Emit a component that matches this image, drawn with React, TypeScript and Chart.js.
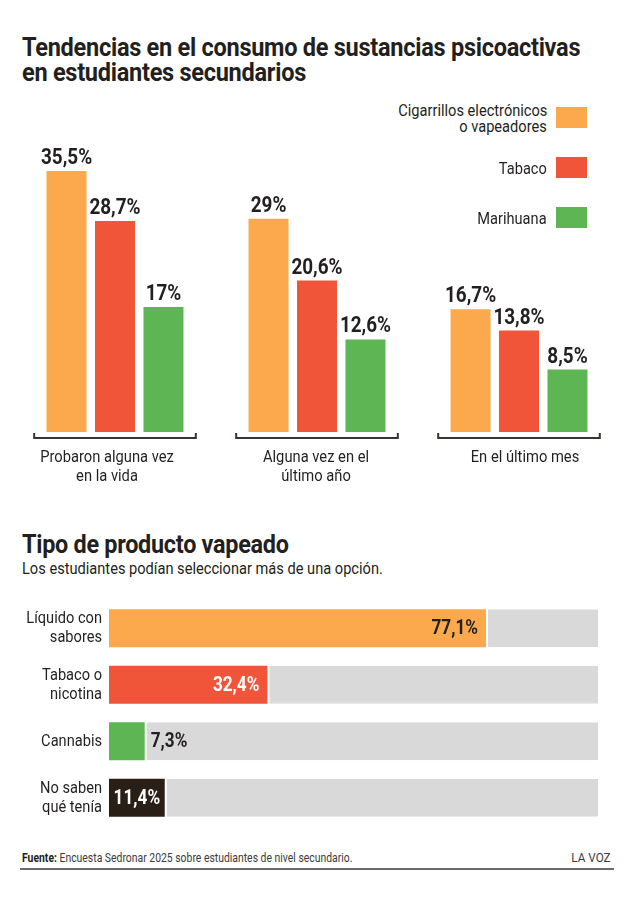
import { useEffect, useRef } from "react";
import { Chart, registerables } from "chart.js";

Chart.register(...registerables);

const FONT = "Roboto, 'Noto Sans', sans-serif";
const INK = "#231F20";
// horizontal squeeze that gives Roboto a condensed look
const SQUEEZE = 0.86;

// Tendencias de consumo (% de estudiantes)
const periods = [["Probaron alguna vez", "en la vida"], ["Alguna vez en el", "último año"], ["En el último mes"]];
const seriesLabels = [["Cigarrillos electrónicos", "o vapeadores"], ["Tabaco"], ["Marihuana"]];
const vapeadores = [35.5, 29, 16.7];
const tabaco = [28.7, 20.6, 13.8];
const marihuana = [17, 12.6, 8.5];
const seriesColors = ["#FBA94C", "#F0553A", "#5DB553"];
// small horizontal nudge of each group caption under its bracket
const captionNudge = [-8, -1, 6];

// Tipo de producto vapeado (% de quienes vapean)
const productos = [["Líquido con", "sabores"], ["Tabaco o", "nicotina"], ["Cannabis"], ["No saben", "qué tenía"]];
const productoValores = [77.1, 32.4, 7.3, 11.4];
const productoColors = ["#FBA94C", "#F0553A", "#5DB553", "#2A1F17"];
const productoLabelColors = [INK, "#FFFFFF", INK, "#FFFFFF"];
const TRACK = "#D9D9D9";

const fmt = (v: number) => String(v).replace(".", ",") + "%";

function squeezedText(ctx: CanvasRenderingContext2D, text: string, x: number, y: number, align: CanvasTextAlign, k = SQUEEZE) {
  ctx.save();
  ctx.translate(x, y);
  ctx.scale(k, 1);
  ctx.textAlign = align;
  ctx.fillText(text, 0, 0);
  ctx.restore();
}

const topValueLabels = {
  id: "topValueLabels",
  afterDatasetsDraw(chart: any) {
    const ctx = chart.ctx;
    ctx.save();
    ctx.font = `bold 22px ${FONT}`;
    ctx.fillStyle = INK;
    ctx.textBaseline = "alphabetic";
    chart.data.datasets.forEach((ds: any, di: number) => {
      chart.getDatasetMeta(di).data.forEach((bar: any, i: number) => {
        squeezedText(ctx, fmt(ds.data[i]), bar.x, bar.y - 7, "center");
      });
    });
    ctx.restore();
  },
};

// bracket under each group plus its (multi-line) category name
const groupBrackets = {
  id: "groupBrackets",
  afterDraw(chart: any) {
    const ctx = chart.ctx;
    const xs = chart.scales.x;
    const step = xs.getPixelForValue(1) - xs.getPixelForValue(0);
    const half = step * 0.4;
    const y = chart.chartArea.bottom + 6;
    ctx.save();
    ctx.strokeStyle = "#3A3330";
    ctx.lineWidth = 2;
    ctx.fillStyle = INK;
    ctx.font = `16px ${FONT}`;
    ctx.textBaseline = "middle";
    chart.data.labels.forEach((lines: string[], i: number) => {
      const cx = xs.getPixelForValue(i);
      ctx.beginPath();
      ctx.moveTo(cx - half, y - 5);
      ctx.lineTo(cx - half, y);
      ctx.lineTo(cx + half, y);
      ctx.lineTo(cx + half, y - 5);
      ctx.stroke();
      lines.forEach((line, j) => {
        squeezedText(ctx, line, cx + captionNudge[i], chart.chartArea.bottom + 25.5 + j * 19.5, "center", 0.92);
      });
    });
    ctx.restore();
  },
};

const productValueLabels = {
  id: "productValueLabels",
  afterDatasetsDraw(chart: any) {
    const ctx = chart.ctx;
    const ds = chart.data.datasets[0];
    const ys = chart.scales.y;
    ctx.save();
    ctx.textBaseline = "middle";

    // category names, right-aligned next to the bars
    ctx.font = `17px ${FONT}`;
    ctx.fillStyle = INK;
    chart.data.labels.forEach((lines: string[], i: number) => {
      const cy = ys.getPixelForValue(i);
      const lh = 19;
      lines.forEach((line, j) => {
        squeezedText(ctx, line, chart.chartArea.left - 7, cy + (j - (lines.length - 1) / 2) * lh, "right");
      });
    });

    // value labels
    ctx.font = `bold 20px ${FONT}`;
    chart.getDatasetMeta(0).data.forEach((bar: any, i: number) => {
      const text = fmt(ds.data[i]);
      const w = ctx.measureText(text).width * SQUEEZE;
      const barW = bar.x - bar.base;
      if (barW >= w + 16) {
        ctx.fillStyle = productoLabelColors[i];
        squeezedText(ctx, text, bar.x - 8, bar.y + 1, "right");
      } else if (barW >= w + 4) {
        ctx.fillStyle = productoLabelColors[i];
        squeezedText(ctx, text, (bar.x + bar.base) / 2, bar.y + 1, "center");
      } else {
        ctx.fillStyle = INK;
        squeezedText(ctx, text, bar.x + 6, bar.y + 1, "left");
      }
    });
    ctx.restore();
  },
};

function Squeezed({ children, k = SQUEEZE, origin = "left" }: { children: any; k?: number; origin?: string }) {
  return (
    <span style={{ display: "inline-block", transform: `scaleX(${k})`, transformOrigin: origin, whiteSpace: "nowrap" }}>
      {children}
    </span>
  );
}

export default function App() {
  const topRef = useRef<HTMLCanvasElement>(null);
  const bottomRef = useRef<HTMLCanvasElement>(null);

  useEffect(() => {
    const trends = new Chart(topRef.current!, {
      type: "bar",
      data: {
        labels: periods,
        datasets: [vapeadores, tabaco, marihuana].map((d, i) => ({
          label: seriesLabels[i].join(" "),
          data: d,
          backgroundColor: seriesColors[i],
          categoryPercentage: 0.72,
          barPercentage: 0.825,
        })),
      },
      options: {
        animation: false,
        responsive: false,
        maintainAspectRatio: false,
        layout: { padding: { left: 14, right: 12, top: 0, bottom: 68 } },
        plugins: { legend: { display: false }, tooltip: { enabled: false } },
        scales: {
          x: { display: false },
          y: { display: false, min: 0, max: 40 },
        },
      },
      plugins: [topValueLabels, groupBrackets],
    } as any);

    const products = new Chart(bottomRef.current!, {
      type: "bar",
      data: {
        labels: productos,
        datasets: [
          {
            label: "Porcentaje",
            data: productoValores,
            backgroundColor: productoColors,
            borderWidth: 0,
          },
          {
            label: "Resto",
            data: productoValores.map((v) => 100 - v),
            backgroundColor: TRACK,
            borderColor: "#FFFFFF",
            borderWidth: { left: 2, right: 0, top: 0, bottom: 0 },
            borderSkipped: false,
          },
        ],
      },
      options: {
        indexAxis: "y",
        animation: false,
        responsive: false,
        maintainAspectRatio: false,
        layout: { padding: { left: 109, right: 34, top: 0, bottom: 0 } },
        datasets: { bar: { categoryPercentage: 1, barPercentage: 0.675 } },
        plugins: { legend: { display: false }, tooltip: { enabled: false } },
        scales: {
          x: { display: false, stacked: true, min: 0, max: 100 },
          y: { display: false, stacked: true },
        },
      },
      plugins: [productValueLabels],
    } as any);

    return () => {
      trends.destroy();
      products.destroy();
    };
  }, []);

  const abs = (top: number, left: number, extra: any = {}) => ({
    position: "absolute" as const,
    top,
    left,
    ...extra,
  });

  return (
    <div style={{ position: "absolute", left: 0, top: 0, width: 632, height: 901, background: "#FFFFFF", fontFamily: FONT, color: INK }}>
      <div style={abs(34.5, 22, { fontSize: 26, lineHeight: "25px", fontWeight: 700, letterSpacing: -0.3 })}>
        <Squeezed k={0.905}>Tendencias en el consumo de sustancias psicoactivas</Squeezed>
        <br />
        <Squeezed k={0.905}>en estudiantes secundarios</Squeezed>
      </div>

      <canvas ref={topRef} width={632} height={362} style={abs(138, 0, { display: "block" })} />

      {seriesLabels.map((lines, i) => (
        <div
          key={i}
          style={abs(107 + i * 50, 0, {
            width: 587,
            height: 21,
            display: "flex",
            justifyContent: "flex-end",
            alignItems: "center",
            gap: 9,
          })}
        >
          <div style={{ textAlign: "right", fontSize: 17, lineHeight: "16px" }}>
            {lines.map((l, j) => (
              <div key={j}>
                <Squeezed origin="right">{l}</Squeezed>
              </div>
            ))}
          </div>
          <div style={{ width: 31, height: 21, background: seriesColors[i], flex: "none" }} />
        </div>
      ))}

      <div style={abs(532, 22, { fontSize: 26, lineHeight: "25px", fontWeight: 700, letterSpacing: -0.3 })}>
        <Squeezed k={0.9}>Tipo de producto vapeado</Squeezed>
      </div>
      <div style={abs(558, 22, { fontSize: 17, lineHeight: "20px" })}>
        <Squeezed>Los estudiantes podían seleccionar más de una opción.</Squeezed>
      </div>

      <canvas ref={bottomRef} width={632} height={226} style={abs(600, 0, { display: "block" })} />

      <div style={abs(850, 22, { fontSize: 13, lineHeight: "16px", color: "#3B3B3B" })}>
        <Squeezed k={0.8}>
          <b style={{ color: INK }}>Fuente:</b> Encuesta Sedronar 2025 sobre estudiantes de nivel secundario.
        </Squeezed>
      </div>
      <div style={abs(850, 0, { width: 611, textAlign: "right", fontSize: 13, lineHeight: "16px", color: "#3B3B3B" })}>
        <Squeezed k={0.9} origin="right">LA VOZ</Squeezed>
      </div>
      <div style={abs(868, 20, { width: 594, height: 2, background: "#6B6B6B" })} />
    </div>
  );
}
